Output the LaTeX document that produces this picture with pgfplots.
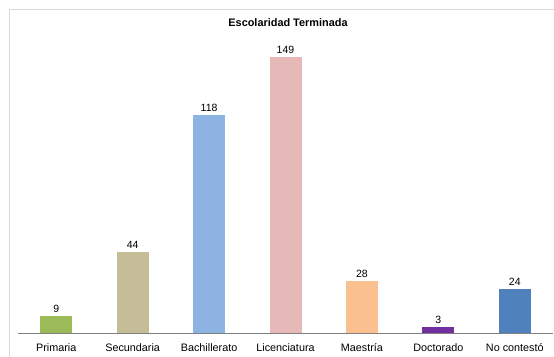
\documentclass[border=0pt]{standalone}
\usepackage{pgfplots}
\pgfplotsset{compat=1.18}
\usepackage{fontspec}
\setmainfont{Liberation Sans}
\definecolor{cPri}{HTML}{9BBB59}
\definecolor{cSec}{HTML}{C4BD97}
\definecolor{cBac}{HTML}{8DB3E2}
\definecolor{cLic}{HTML}{E6B9B8}
\definecolor{cMae}{HTML}{FAC090}
\definecolor{cDoc}{HTML}{7030A0}
\definecolor{cNoc}{HTML}{4F81BD}
\definecolor{frame}{HTML}{D9D9D9}
\begin{document}
\begin{tikzpicture}[x=1pt,y=1pt]
\useasboundingbox (0,0) rectangle (554,356);
\begin{scope}
\clip (0,0) rectangle (554,356);
\draw[frame, line width=1pt] (9.5,-5) -- (9.5,346.5) -- (560,346.5);
\end{scope}
\node[font=\bfseries\fontsize{10.9}{13}\selectfont] at (288,333) {Escolaridad Terminada};
\begin{axis}[
  at={(18pt,23pt)}, anchor=south west,
  scale only axis, width=535pt, height=296pt,
  ymin=0, ymax=160, xmin=-0.5, xmax=6.5,
  axis y line=none, axis x line*=bottom,
  x axis line style={draw=black!50, line width=0.8pt, -},
  ybar, bar width=32pt, bar shift=0pt,
  xtick={0,1,2,3,4,5,6},
  xticklabels={Primaria,Secundaria,Bachillerato,Licenciatura,Maestría,Doctorado,No contestó},
  major tick length=0pt,
  xticklabel style={font=\fontsize{10.8}{13}\selectfont, yshift=-7pt},
  nodes near coords,
  nodes near coords style={font=\fontsize{10.5}{12}\selectfont, black},
  /pgf/number format/assume math mode=true,
  clip=false,
]
\addplot[fill=cPri, draw=none] coordinates {(0,9)};
\addplot[fill=cSec, draw=none] coordinates {(1,44)};
\addplot[fill=cBac, draw=none] coordinates {(2,118)};
\addplot[fill=cLic, draw=none] coordinates {(3,149)};
\addplot[fill=cMae, draw=none] coordinates {(4,28)};
\addplot[fill=cDoc, draw=none] coordinates {(5,3)};
\addplot[fill=cNoc, draw=none] coordinates {(6,24)};
\end{axis}
\end{tikzpicture}
\end{document}
